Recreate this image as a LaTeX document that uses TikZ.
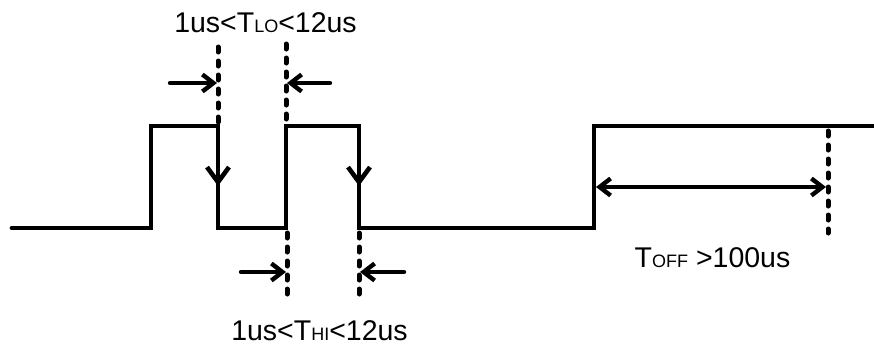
\documentclass[tikz,border=0pt]{standalone}
\usepackage{fontspec}
\setmainfont{Liberation Sans}
\usetikzlibrary{arrows.meta}
\begin{document}
\begin{tikzpicture}[x=1pt,y=-1pt,
  sig/.style={line width=4.8pt,line join=miter,line cap=round},
  guide/.style={line width=5pt,line cap=round,dash pattern=on 5pt off 9pt},
  harr/.style={line width=4.4pt,line cap=round,-{Straight Barb[length=11pt,width=17pt,line width=4.4pt]}},
  varr/.style={line width=4.8pt,-{Straight Barb[length=15pt,width=22pt,line width=4.6pt]}},
  lbl/.style={anchor=base,inner sep=0pt,font=\fontsize{28.5}{28.5}\selectfont}]
\useasboundingbox (0,0) rectangle (874,349);
% waveform points
\coordinate (s0) at (12,228);
\coordinate (r1b) at (151,228);
\coordinate (r1t) at (151,126);
\coordinate (f1t) at (218,126);
\coordinate (f1m) at (218,186);
\coordinate (f1b) at (218,228);
\coordinate (r2b) at (286,228);
\coordinate (r2t) at (286,126);
\coordinate (f2t) at (359,126);
\coordinate (f2m) at (359,186);
\coordinate (f2b) at (359,228);
\coordinate (r3b) at (594,228);
\coordinate (r3t) at (594,126);
\coordinate (e) at (874,126);
\draw[sig] (s0) -- (r1b) -- (r1t) -- (f1t) -- (f1b) -- (r2b) -- (r2t) -- (f2t) -- (f2b) -- (r3b) -- (r3t) -- (e);
\draw[varr] (f1t) -- (f1m);
\draw[varr] (f2t) -- (f2m);
% guides
\coordinate (g1a) at (218,47);  \coordinate (g1b) at (218,122);
\coordinate (g2a) at (286,44);  \coordinate (g2b) at (286,122);
\coordinate (g3a) at (287,233); \coordinate (g3b) at (287,302);
\coordinate (g4a) at (359,233); \coordinate (g4b) at (359,302);
\coordinate (g5a) at (828,131); \coordinate (g5b) at (828,233);
\draw[guide] (g1a) -- (g1b);
\draw[guide] (g2a) -- (g2b);
\draw[guide] (g3a) -- (g3b);
\draw[guide] (g4a) -- (g4b);
\draw[guide] (g5a) -- (g5b);
% measurement arrows
\coordinate (a1s) at (170,83);  \coordinate (a1e) at (217,83);
\coordinate (a2s) at (330,83);  \coordinate (a2e) at (287,83);
\coordinate (a3s) at (241,272); \coordinate (a3e) at (286,272);
\coordinate (a4s) at (404,272); \coordinate (a4e) at (360,272);
\coordinate (a5s) at (596,187); \coordinate (a5e) at (826,187);
\draw[harr] (a1s) -- (a1e);
\draw[harr] (a2s) -- (a2e);
\draw[harr] (a3s) -- (a3e);
\draw[harr] (a4s) -- (a4e);
\draw[harr,{Straight Barb[length=11pt,width=17pt,line width=4.4pt]}-{Straight Barb[length=11pt,width=17pt,line width=4.4pt]}] (a5s) -- (a5e);
% labels
\node[lbl] (tlo) at (265.5,32) {1us<T{\fontsize{18}{18}\selectfont LO}<12us};
\node[lbl] (thi) at (319.5,340) {1us<T{\fontsize{18}{18}\selectfont HI}<12us};
\node[lbl] (toff) at (712.5,267) {T{\fontsize{18}{18}\selectfont OFF} >100us};
\end{tikzpicture}
\end{document}
